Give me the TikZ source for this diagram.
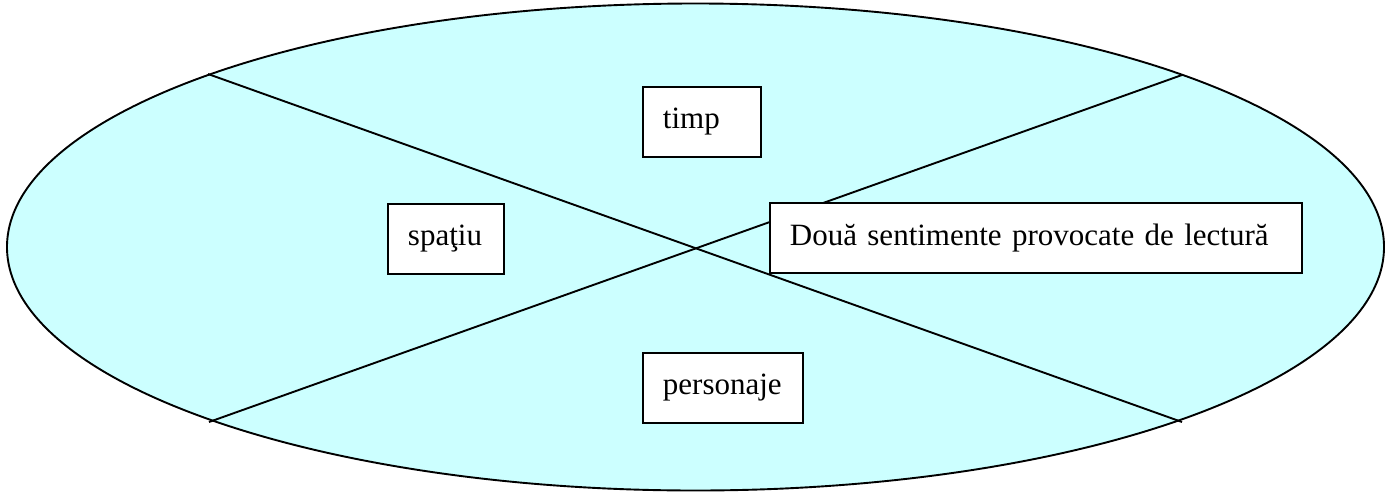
\documentclass[tikz,border=0pt]{standalone}
\usepackage{fontspec}
\setmainfont{Liberation Serif}
\definecolor{ellfill}{HTML}{CCFFFF}
\tikzset{
  boxnode/.style={draw=black, fill=white, line width=1.9pt, anchor=north west,
    inner xsep=20pt, inner ysep=0pt, minimum height=70pt, align=left,
    font=\fontsize{31}{35}\selectfont},
  divline/.style={draw=black, line width=1.9pt}
}
\begin{document}
\begin{tikzpicture}[x=1pt,y=-1pt]
\useasboundingbox (0,0) rectangle (1391,493);
\draw[line width=1.9pt, fill=ellfill] (695.5,247) ellipse [x radius=688.5, y radius=243.5];
\coordinate (tl) at (208,74);
\coordinate (tr) at (1182,75);
\coordinate (bl) at (209,422);
\coordinate (br) at (1182,422);
\draw[divline] (tl) -- (br);
\draw[divline] (bl) -- (tr);
\node[boxnode, text width=78pt] (timp) at (642,86) {timp};
\node[boxnode, text width=76pt] (spatiu) at (387,203) {spaţiu};
\node[boxnode, text width=492pt] (doua) at (769,202) {Două sentimente provocate de lectură};
\node[boxnode, text width=120pt] (pers) at (642,352) {personaje};
\end{tikzpicture}
\end{document}
